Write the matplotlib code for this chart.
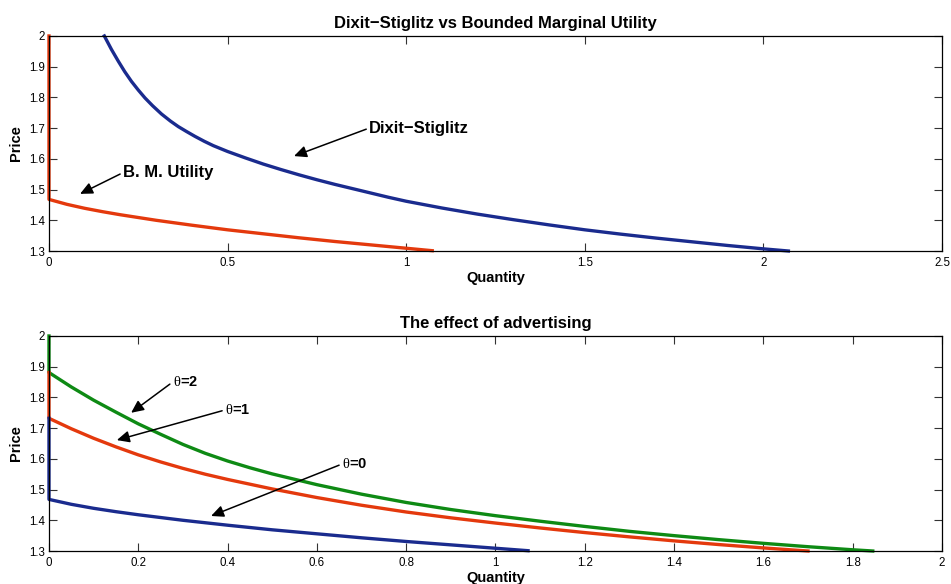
import matplotlib
matplotlib.use('Agg')
import matplotlib.pyplot as plt
from matplotlib.ticker import FuncFormatter

plt.rcParams['font.family'] = ['Liberation Sans', 'DejaVu Sans']
plt.rcParams['mathtext.fontset'] = 'custom'
plt.rcParams['mathtext.rm'] = 'Liberation Serif'

# top panel: Dixit-Stiglitz demand
ds_q = [0.155, 0.175, 0.194, 0.212, 0.231, 0.25, 0.269, 0.29, 0.315, 0.34, 0.362, 0.385,
        0.409, 0.435, 0.46, 0.5, 0.55, 0.6, 0.65, 0.7, 0.75, 0.8, 0.85, 0.9, 0.95, 1.0,
        1.1, 1.2, 1.3, 1.4, 1.5, 1.6, 1.7, 1.8, 1.9, 2.0, 2.07]
ds_p = [2.0, 1.956, 1.918, 1.884, 1.852, 1.824, 1.798, 1.773, 1.746, 1.723, 1.705, 1.689,
        1.673, 1.657, 1.643, 1.624, 1.603, 1.583, 1.565, 1.548, 1.532, 1.517, 1.503, 1.489,
        1.475, 1.462, 1.440, 1.420, 1.402, 1.385, 1.369, 1.355, 1.342, 1.330, 1.318, 1.307, 1.300]

# top panel: bounded marginal utility demand
bmu_q = [0, 0, 0.05, 0.1, 0.15, 0.2, 0.25, 0.3, 0.35, 0.4, 0.5, 0.6, 0.7, 0.8, 0.9, 1.0, 1.073]
bmu_p = [2.0, 1.468, 1.452, 1.439, 1.428, 1.418, 1.409, 1.400, 1.392, 1.384, 1.369, 1.356,
         1.343, 1.331, 1.320, 1.309, 1.301]

# bottom panel: advertising intensity theta
th2_q = [0, 0, 0.05, 0.1, 0.15, 0.2, 0.25, 0.3, 0.35, 0.4, 0.45, 0.5, 0.6, 0.7, 0.8, 0.9,
         1.0, 1.1, 1.2, 1.3, 1.4, 1.5, 1.6, 1.7, 1.8, 1.845]
th2_p = [2.0, 1.881, 1.834, 1.791, 1.752, 1.714, 1.680, 1.647, 1.618, 1.593, 1.571, 1.551,
         1.516, 1.485, 1.458, 1.435, 1.415, 1.397, 1.380, 1.364, 1.350, 1.337, 1.325, 1.314,
         1.304, 1.300]

th1_q = [0, 0, 0.05, 0.1, 0.15, 0.2, 0.25, 0.3, 0.35, 0.4, 0.5, 0.6, 0.7, 0.8, 0.9, 1.0,
         1.1, 1.2, 1.3, 1.4, 1.5, 1.6, 1.7]
th1_p = [1.881, 1.732, 1.698, 1.667, 1.639, 1.613, 1.590, 1.569, 1.550, 1.533, 1.502, 1.474,
         1.449, 1.427, 1.408, 1.391, 1.375, 1.360, 1.346, 1.333, 1.321, 1.310, 1.300]

th0_q = [0, 0, 0.05, 0.1, 0.15, 0.2, 0.25, 0.3, 0.35, 0.4, 0.5, 0.6, 0.7, 0.8, 0.9, 1.0, 1.073]
th0_p = [1.732, 1.468, 1.452, 1.439, 1.428, 1.418, 1.409, 1.400, 1.392, 1.384, 1.369, 1.356,
         1.343, 1.331, 1.320, 1.309, 1.301]

top_xticks = [0, 0.5, 1, 1.5, 2, 2.5]
bot_xticks = [0, 0.2, 0.4, 0.6, 0.8, 1, 1.2, 1.4, 1.6, 1.8, 2]
yticks = [1.3, 1.4, 1.5, 1.6, 1.7, 1.8, 1.9, 2]

blue = '#1a2b8e'
red = '#e4390d'
green = '#0e8a14'

fig = plt.figure(figsize=(9.51, 5.84), dpi=100)
ax1 = fig.add_axes([0.0515, 0.5702, 0.939, 0.3682])
ax2 = fig.add_axes([0.0515, 0.0565, 0.939, 0.3682])

fmt = FuncFormatter(lambda v, pos: '%g' % round(v, 3))


def style(ax, xticks, xmax):
    ax.set_xlim(0, xmax)
    ax.set_ylim(1.3, 2)
    ax.set_xticks(xticks)
    ax.set_yticks(yticks)
    ax.xaxis.set_major_formatter(fmt)
    ax.yaxis.set_major_formatter(fmt)
    ax.tick_params(direction='in', length=5.5, width=0.8, labelsize=8.3,
                   top=True, right=True, color='#333333')
    ax.tick_params(axis='x', pad=4)
    ax.tick_params(axis='y', pad=3)
    for s in ax.spines.values():
        s.set_linewidth(0.9)
    ax.set_xlabel('Quantity', fontsize=10.5, fontweight='bold', labelpad=2)
    ax.set_ylabel('Price', fontsize=10.5, fontweight='bold', labelpad=4)


arrow = dict(arrowstyle='-|>,head_length=0.75,head_width=0.35', color='k', lw=1.1,
             mutation_scale=10, shrinkA=0, shrinkB=0, relpos=(0, 0.5))

# top panel
ax1.plot(ds_q, ds_p, color=blue, lw=2.4, clip_on=False)
ax1.plot(bmu_q, bmu_p, color=red, lw=2.4, clip_on=False)
style(ax1, top_xticks, 2.5)
ax1.set_title('Dixit\u2212Stiglitz vs Bounded Marginal Utility', fontsize=12,
              fontweight='bold', pad=5.5)
ax1.annotate('Dixit\u2212Stiglitz', xy=(0.686, 1.609), xytext=(0.896, 1.700),
             fontsize=12, fontweight='bold', ha='left', va='center', arrowprops=arrow)
ax1.annotate('B. M. Utility', xy=(0.087, 1.486), xytext=(0.207, 1.555),
             fontsize=12, fontweight='bold', ha='left', va='center', arrowprops=arrow)

# bottom panel
ax2.plot(th2_q, th2_p, color=green, lw=2.4, clip_on=False)
ax2.plot(th1_q, th1_p, color=red, lw=2.4, clip_on=False)
ax2.plot(th0_q, th0_p, color=blue, lw=2.4, clip_on=False)
style(ax2, bot_xticks, 2)
ax2.set_title('The effect of advertising', fontsize=12, fontweight='bold', pad=5.5)
ax2.annotate(r'$\mathrm{\theta}$=2', xy=(0.184, 1.750), xytext=(0.277, 1.850),
             fontsize=10.5, fontweight='bold', ha='left', va='center', arrowprops=arrow)
ax2.annotate(r'$\mathrm{\theta}$=1', xy=(0.152, 1.661), xytext=(0.394, 1.759),
             fontsize=10.5, fontweight='bold', ha='left', va='center', arrowprops=arrow)
ax2.annotate(r'$\mathrm{\theta}$=0', xy=(0.363, 1.414), xytext=(0.656, 1.583),
             fontsize=10.5, fontweight='bold', ha='left', va='center', arrowprops=arrow)

fig.savefig('out.png', dpi=100)
